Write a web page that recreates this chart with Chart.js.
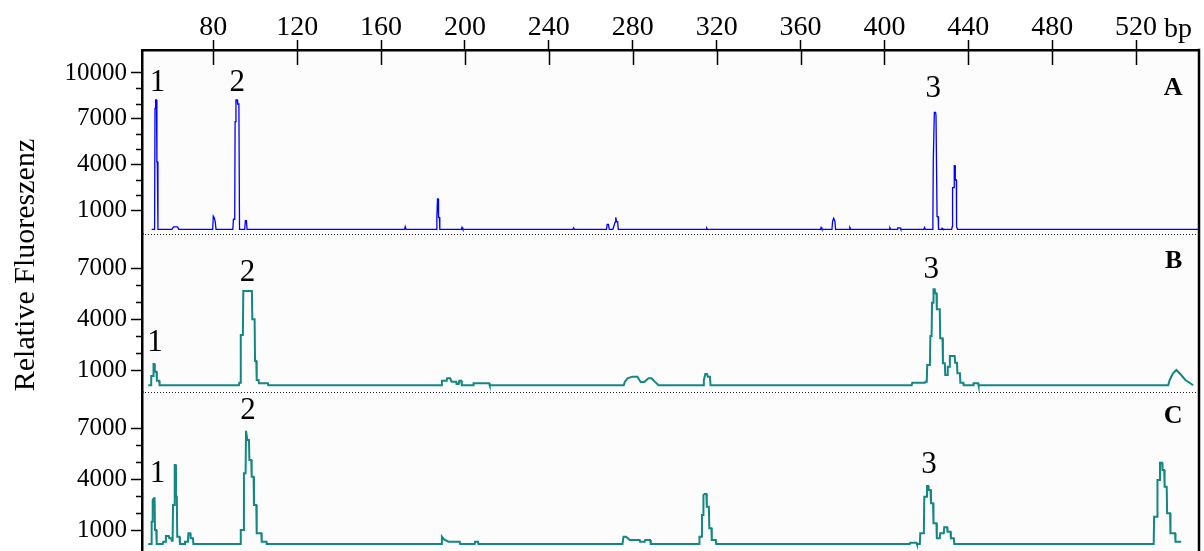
<!DOCTYPE html>
<html>
<head>
<meta charset="utf-8">
<title>Relative Fluoreszenz</title>
<script src="https://cdn.jsdelivr.net/npm/chart.js@4/dist/chart.umd.min.js"></script>
<style>
  html, body { margin: 0; padding: 0; background: #fff; overflow: hidden; }
  #wrap { width: 1204px; height: 551px; position: relative; }
</style>
</head>
<body>
<div id="wrap"><canvas id="chart"></canvas></div>
<script>
// fragment length axis (bp)
const bpMin = 46, bpMax = 550;
const bpTicks = [80, 120, 160, 200, 240, 280, 320, 360, 400, 440, 480, 520];

// y ticks per panel (all get a mark, only some get a number)
const yTicksA = [1000, 2000, 3000, 4000, 5000, 6000, 7000, 8000, 9000, 10000];
const yLabelsA = [1000, 4000, 7000, 10000];
const yTicksBC = [1000, 2000, 3000, 4000, 5000, 6000, 7000];
const yLabelsBC = [1000, 4000, 7000];

// panel ranges [min, max]
const rangeA = [-523, 11503];
const rangeB = [-294, 9000];
const rangeC = [-235, 9118];

// traces as [bp, fluorescence]
const traceA = [
  [50.6, -216], [52.0, -216], [52.2, 7690], [52.5, 8235], [52.9, 8235], [53.1, 4200], [53.3, 4200], [53.6, -216],
  [60.3, -216], [61.0, -60], [63.0, -60], [63.5, -216],
  [79.7, -216], [80.0, 650], [80.4, 560], [80.9, 300], [81.3, -216],
  [89.3, -216], [89.6, 440], [90.2, 440], [90.4, 6817], [90.8, 8235], [91.4, 8235], [91.6, 7974], [92.2, 7974], [92.5, -216],
  [95.0, -216], [95.3, 346], [95.8, 346], [96.1, -216],
  [171.2, -216], [171.5, -40], [171.9, -216],
  [186.4, -216], [186.6, 569], [186.9, 1765], [187.2, 1765], [187.4, 569], [187.8, 569], [188.0, -216],
  [198.3, -216], [198.6, -90], [199.0, -216],
  [251.5, -216], [251.8, -120], [252.2, -216],
  [267.5, -216], [267.8, 111], [268.4, 111], [268.8, -216],
  [270.5, -216], [270.9, -50], [271.6, 250], [271.9, 569], [272.3, 281], [272.8, 281], [273.1, -216],
  [315.0, -216], [315.3, -140], [315.6, -216],
  [369.5, -216], [369.8, -100], [370.2, -216],
  [375.0, -216], [375.3, 310], [375.8, 503], [376.4, 310], [376.7, -216],
  [383.2, -216], [383.5, -90], [384.0, -216],
  [402.3, -216], [402.6, -110], [403.0, -216],
  [406.0, -216], [406.3, -120], [407.5, -120], [407.8, -216],
  [418.8, -216], [419.1, -100], [419.5, -216],
  [422.9, -216], [423.1, -30], [423.3, 4248], [423.8, 7431], [424.4, 7431], [424.6, 7209], [425.0, 7209], [425.1, 608], [425.6, 608], [425.8, -216],
  [427.3, -216], [427.5, -150], [427.9, -216],
  [432.1, -216], [432.3, -50], [432.5, 2503], [433.2, 2503], [433.3, 3941], [433.7, 3941], [433.8, 3007], [434.3, 3007], [434.4, -50], [434.9, -216],
  [549.7, -216]
];

const traceB = [
  [49.0, 100], [50.3, 100], [50.4, 647], [51.3, 647], [51.5, 1353], [51.9, 1353], [52.1, 900], [52.9, 900], [53.1, 371], [54.2, 371], [54.4, 100],
  [92.2, 100], [92.4, 253], [93.0, 253], [93.1, 3059], [94.1, 3059], [94.3, 5647], [98.4, 5647], [98.6, 3980], [99.7, 3980],
  [99.9, 1529], [100.5, 1529], [100.7, 412], [101.6, 412], [101.8, 218], [106.0, 218], [106.2, 100],
  [188.8, 100], [189.0, 371], [191.3, 371], [191.5, 510], [193.0, 510], [193.6, 314], [195.8, 314], [196.0, 176], [197.0, 176],
  [197.3, 371], [198.2, 371], [198.5, 100],
  [203.9, 100], [204.1, 218], [211.5, 218], [211.8, 100],
  [275.7, 100], [276.2, 300], [277.5, 510], [279.8, 608], [282.2, 608], [283.8, 294], [285.5, 294], [287.5, 510], [289.0, 510], [290.5, 314], [292.3, 100],
  [313.6, 100], [313.9, 400], [314.6, 765], [315.4, 765], [315.8, 606], [316.8, 606], [317.1, 100],
  [413.0, 100], [413.3, 253], [419.3, 253], [419.6, 314], [420.2, 314], [420.4, 1294], [421.7, 1294], [421.9, 3000], [422.5, 3000],
  [422.7, 4961], [423.2, 4961], [423.4, 5745], [424.0, 5745], [424.2, 5510], [424.8, 5510], [425.0, 4569], [426.4, 4569],
  [426.6, 2863], [427.7, 2863], [427.9, 1392], [428.8, 1392], [429.0, 706], [430.0, 706], [430.2, 1196], [431.0, 1196],
  [431.2, 1824], [433.5, 1824], [433.7, 1431], [434.6, 1431], [434.8, 804], [436.0, 804], [436.2, 253], [437.6, 253], [437.8, 100],
  [442.3, 100], [442.5, 218], [444.7, 218], [444.9, 100],
  [535.3, 100], [536.0, 400], [537.6, 804], [539.2, 1000], [541.1, 765], [543.5, 412], [545.5, 250], [547.2, 100]
];

const traceC = [
  [49.0, 176], [50.5, 176], [50.6, 1490], [51.0, 1490], [51.1, 2765], [51.6, 2863], [52.0, 2863], [52.2, 1000], [52.8, 1000], [53.0, 176],
  [55.9, 176], [56.1, 314], [57.2, 314], [57.4, 647], [58.8, 647], [59.0, 510], [60.0, 510], [60.2, 373], [60.6, 373],
  [60.8, 2471], [61.4, 2471], [61.6, 4824], [62.0, 4824], [62.2, 2961], [62.6, 2961], [62.8, 608], [63.9, 608], [64.1, 176],
  [66.3, 176], [66.5, 314], [67.9, 314], [68.1, 804], [69.0, 804], [69.2, 510], [70.3, 510], [70.5, 176],
  [92.9, 176], [93.1, 1000], [94.4, 1000], [94.6, 4333], [95.4, 4333], [95.6, 6843], [96.0, 6843], [96.2, 6294], [97.0, 6294],
  [97.2, 5118], [98.1, 5118], [98.3, 4137], [99.2, 4137], [99.4, 2471], [100.5, 2471], [100.7, 804], [102.9, 804],
  [103.1, 314], [105.3, 314], [105.5, 176],
  [188.7, 176], [189.0, 608], [190.0, 450], [192.1, 314], [197.5, 314], [197.7, 176],
  [204.6, 176], [204.8, 314], [206.2, 314], [206.4, 176],
  [275.1, 176], [275.6, 608], [276.8, 608], [278.6, 412], [283.3, 412], [283.5, 314], [285.7, 314], [285.9, 412], [288.3, 412], [288.6, 176],
  [311.6, 176], [311.8, 608], [312.8, 608], [313.0, 1882], [313.5, 1882], [313.7, 3059], [314.3, 3118], [315.1, 3118],
  [315.3, 2373], [316.3, 2373], [316.5, 1098], [317.5, 1098], [317.7, 412], [319.6, 412], [319.8, 176],
  [412.1, 176], [412.3, 255], [415.3, 255], [415.5, 176], [416.9, 176], [417.1, 804], [418.8, 804], [419.0, 2961], [420.1, 2961],
  [420.3, 3588], [420.9, 3588], [421.1, 3353], [422.0, 3353], [422.2, 2569], [423.2, 2569], [423.4, 1392], [424.8, 1392],
  [425.0, 510], [426.4, 510], [426.6, 804], [428.3, 804], [428.5, 1157], [429.9, 1157], [430.1, 902], [431.5, 902],
  [431.7, 510], [433.1, 510], [433.3, 176],
  [528.4, 176], [528.6, 1784], [530.0, 1784], [530.2, 3941], [531.2, 3941], [531.4, 4961], [532.4, 4961], [532.6, 4529],
  [533.4, 4529], [533.6, 3549], [534.6, 3549], [534.8, 1980], [536.2, 1980], [536.4, 804], [538.6, 804], [538.8, 314], [541.5, 314]
];

// peak numbers and panel letters
const noteAxis = ['yA', 'yA', 'yA', 'yB', 'yB', 'yB', 'yC', 'yC', 'yC'];
const noteBp   = [53.4, 91.4, 423.3, 52.2, 96.3, 422.3, 53.4, 96.6, 421.3];
const noteVal  = [9380, 9380, 8970, 2600, 6735, 6880, 4306, 8012, 4841];
const noteText = ['1', '2', '3', '1', '2', '3', '1', '2', '3'];
const panelAxis = ['yA', 'yB', 'yC'];
const panelVal  = [9000, 7394, 7688];
const panelText = ['A', 'B', 'C'];
const panelBp = 542.1;

const serif = "'Liberation Serif', 'Times New Roman', serif";

function panelScale(range, ticks, labelled, weight) {
    return {
        type: 'linear',
        position: 'left',
        stack: 'panels',
        stackWeight: weight,
        min: range[0],
        max: range[1],
        afterBuildTicks: function(scale) {
            scale.ticks = ticks.map(v => ({ value: v }));
        },
        afterFit: function(scale) {
            scale.width = 142;
            // labels may overhang, do not shrink the plot for them
            scale.paddingTop = 0;
            scale.paddingBottom = 0;
        },
        ticks: {
            autoSkip: false,
            color: '#000',
            padding: 4,
            font: { family: serif, size: 25 },
            callback: v => labelled.includes(v) ? String(v) : ''
        },
        grid: {
            drawOnChartArea: false,
            tickLength: 11,
            tickWidth: 1.5,
            tickColor: ctx => (ctx.tick && labelled.includes(ctx.tick.value)) ? '#000' : 'rgba(0,0,0,0)'
        },
        border: { color: '#000', width: 2.5 }
    };
}

// frame, separators, short ticks and texts
const decorations = {
    id: 'decorations',
    beforeDraw(chart) {
        const { ctx, chartArea: a } = chart;
        ctx.save();
        ctx.fillStyle = '#fcfcfc';
        ctx.fillRect(a.left, a.top, a.right - a.left, a.bottom - a.top);
        ctx.restore();
    },
    beforeDatasetsDraw(chart) {
        const { ctx, chartArea: a, scales } = chart;
        ctx.save();
        ctx.strokeStyle = '#222';
        ctx.lineWidth = 1;
        ctx.setLineDash([1, 2]);
        [scales.yA.bottom, scales.yB.bottom].forEach(y => {
            ctx.beginPath();
            ctx.moveTo(a.left, Math.round(y) + 0.5);
            ctx.lineTo(a.right, Math.round(y) + 0.5);
            ctx.stroke();
        });
        ctx.restore();
    },
    afterDraw(chart) {
        const { ctx, chartArea: a, scales } = chart;
        const x = scales.x;
        ctx.save();
        ctx.strokeStyle = '#000';

        // right frame line
        ctx.lineWidth = 2.5;
        ctx.beginPath();
        ctx.moveTo(a.right, a.top - 1.25);
        ctx.lineTo(a.right, chart.height);
        ctx.stroke();

        // x ticks reach into the plot
        ctx.lineWidth = 1.5;
        bpTicks.forEach(v => {
            const px = Math.round(x.getPixelForValue(v)) + 0.5;
            ctx.beginPath();
            ctx.moveTo(px, a.top);
            ctx.lineTo(px, a.top + 15);
            ctx.stroke();
        });

        // short unlabelled y ticks
        [[scales.yA, yTicksA, yLabelsA], [scales.yB, yTicksBC, yLabelsBC], [scales.yC, yTicksBC, yLabelsBC]]
            .forEach(([s, ticks, labelled]) => {
                ticks.filter(v => !labelled.includes(v)).forEach(v => {
                    const py = Math.round(s.getPixelForValue(v)) + 0.5;
                    ctx.beginPath();
                    ctx.moveTo(a.left - 6, py);
                    ctx.lineTo(a.left, py);
                    ctx.stroke();
                });
            });

        // unit after the last tick label
        ctx.fillStyle = '#000';
        ctx.font = '28px ' + serif;
        ctx.textBaseline = 'alphabetic';
        ctx.textAlign = 'left';
        const x520 = x.getPixelForValue(520);
        ctx.fillText('bp', x520 + ctx.measureText('520').width / 2 + ctx.measureText(' ').width, 37);

        // peak numbers
        ctx.font = '31px ' + serif;
        ctx.textAlign = 'center';
        ctx.textBaseline = 'middle';
        noteText.forEach((t, i) => {
            const s = scales[noteAxis[i]];
            ctx.fillText(t, x.getPixelForValue(noteBp[i]), s.getPixelForValue(noteVal[i]));
        });

        // panel letters
        ctx.font = 'bold 26px ' + serif;
        ctx.textAlign = 'right';
        panelText.forEach((t, i) => {
            const s = scales[panelAxis[i]];
            ctx.fillText(t, x.getPixelForValue(panelBp), s.getPixelForValue(panelVal[i]));
        });

        // axis title
        ctx.font = '30px ' + serif;
        ctx.textAlign = 'center';
        ctx.textBaseline = 'alphabetic';
        ctx.translate(34, 265);
        ctx.rotate(-Math.PI / 2);
        ctx.fillText('Relative Fluoreszenz', 0, 0);
        ctx.restore();
    }
};

function traceSet(trace, axis, color, width) {
    return {
        data: trace.map(p => ({ x: p[0], y: p[1] })),
        yAxisID: axis,
        xAxisID: 'x',
        borderColor: color,
        borderWidth: width,
        pointRadius: 0,
        tension: 0,
        fill: false
    };
}

new Chart(document.getElementById('chart'), {
    type: 'line',
    data: {
        datasets: [
            traceSet(traceA, 'yA', '#0000ff', 1.3),
            traceSet(traceB, 'yB', '#138781', 2),
            traceSet(traceC, 'yC', '#138781', 2)
        ]
    },
    options: {
        responsive: true,
        maintainAspectRatio: false,
        animation: false,
        layout: { padding: { left: 0, right: 5, top: 0, bottom: 0 } },
        plugins: {
            legend: { display: false },
            tooltip: { enabled: false }
        },
        scales: {
            x: {
                type: 'linear',
                position: 'top',
                min: bpMin,
                max: bpMax,
                afterBuildTicks: function(scale) {
                    scale.ticks = bpTicks.map(v => ({ value: v }));
                },
                afterFit: function(scale) {
                    scale.height = 50;
                    scale.paddingLeft = 0;
                    scale.paddingRight = 0;
                },
                ticks: {
                    autoSkip: false,
                    maxRotation: 0,
                    color: '#000',
                    padding: -4,
                    font: { family: serif, size: 28 },
                    callback: v => String(v)
                },
                grid: {
                    drawOnChartArea: false,
                    tickLength: 10,
                    tickWidth: 1.5,
                    tickColor: '#000'
                },
                border: { color: '#000', width: 2.5 }
            },
            // stacked panels: the last listed ends up on top
            yC: panelScale(rangeC, yTicksBC, yLabelsBC, 159),
            yB: panelScale(rangeB, yTicksBC, yLabelsBC, 158),
            yA: panelScale(rangeA, yTicksA, yLabelsA, 184)
        }
    },
    plugins: [decorations]
});
</script>
</body>
</html>
